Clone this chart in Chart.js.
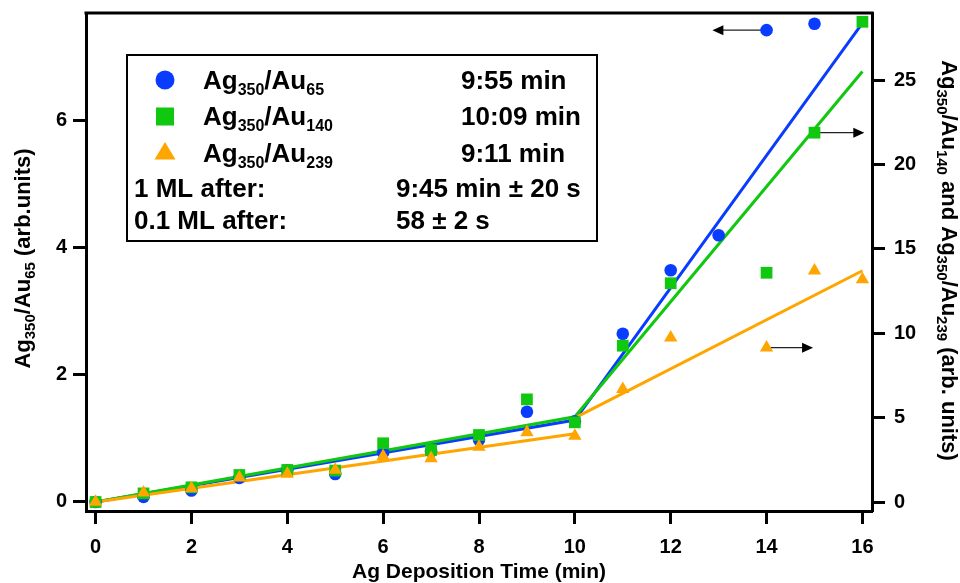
<!DOCTYPE html>
<html>
<head>
<meta charset="utf-8">
<script src="https://cdn.jsdelivr.net/npm/chart.js@4/dist/chart.umd.min.js"></script>
<style>
  html, body { margin: 0; padding: 0; background: #fff; }
  #wrap { width: 960px; height: 583px; }
</style>
</head>
<body>
<div id="wrap"><canvas id="chart"></canvas></div>
<script>
// data
const times  = [0, 1, 2, 3, 4, 5, 6, 7, 8, 9, 10, 11, 12, 13, 14, 15, 16];
const au65   = [0, 0.08, 0.18, 0.38, 0.5, 0.44, 0.78, 0.8, 0.98, 1.42, 1.27, 2.65, 3.65, 4.2, 7.43, 7.53, null];
const au140  = [0, 0.51, 0.87, 1.6, 1.9, 1.86, 3.48, 3.08, 3.97, 6.08, 4.72, 9.26, 12.96, null, 13.58, 21.88, 28.45];
const au239  = [0, 0.55, 0.81, 1.44, 1.66, 1.9, 2.72, 2.59, 3.26, 4.13, 3.91, 6.68, 9.74, null, 9.14, 13.7, 13.19];

// linear fits (break at 10 min)
const fit65X  = [0, 10, 16];
const fit65Y  = [0, 1.29, 7.54];
const fit140X = [0, 10, 16];
const fit140Y = [0, 5.05, 25.5];
const fit239LowX  = [0, 10];
const fit239LowY  = [0, 4.05];
const fit239HighX = [10, 16];
const fit239HighY = [4.98, 13.7];

const xTicks     = [0, 2, 4, 6, 8, 10, 12, 14, 16];
const leftTicks  = [0, 2, 4, 6];
const rightTicks = [0, 5, 10, 15, 20, 25];

// axis arrows: from marker to tip, at the marker's value
const arrowFrom = [14, 15, 14];
const arrowTo   = [12.87, 16.04, 14.97];
const arrowY    = [7.43, 21.88, 9.14];
const arrowAxis = ['y', 'y2', 'y2'];

const legendNames = [
  [['Ag'], ['350', 1], ['/Au'], ['65', 1]],
  [['Ag'], ['350', 1], ['/Au'], ['140', 1]],
  [['Ag'], ['350', 1], ['/Au'], ['239', 1]],
];
const legendTimes = ['9:55 min', '10:09 min', '9:11 min'];
const noteLabels  = ['1 ML after:', '0.1 ML after:'];
const noteValues  = ['9:45 min \u00b1 20 s', '58 \u00b1 2 s'];

const leftTitle  = [['Ag'], ['350', 1], ['/Au'], ['65', 1], [' (arb.units)']];
const rightTitle = [['Ag'], ['350', 1], ['/Au'], ['140', 1], [' and Ag'], ['350', 1], ['/Au'], ['239', 1], [' (arb. units)']];
const xTitle = 'Ag Deposition Time (min)';

const BLUE = '#0a3cff', GREEN = '#10c810', ORANGE = '#ffa500';
const FONT = '"Liberation Sans", Arial, Helvetica, sans-serif';

function pts(xs, ys) {
  return xs.map((x, i) => ({ x: x, y: ys[i] })).filter(p => p.y !== null);
}

// text with subscripts; parts = [[text, isSub], ...]
function richWidth(ctx, parts, size, sub) {
  let w = 0;
  parts.forEach(p => {
    ctx.font = 'bold ' + (p[1] ? sub : size) + 'px ' + FONT;
    w += ctx.measureText(p[0]).width;
  });
  return w;
}
function drawRich(ctx, parts, x, y, size, sub, drop, center) {
  let cx = center ? x - richWidth(ctx, parts, size, sub) / 2 : x;
  ctx.textAlign = 'left';
  ctx.textBaseline = 'alphabetic';
  parts.forEach(p => {
    ctx.font = 'bold ' + (p[1] ? sub : size) + 'px ' + FONT;
    ctx.fillText(p[0], cx, p[1] ? y + drop : y);
    cx += ctx.measureText(p[0]).width;
  });
}

/* ── frame, titles, arrows, legend ───────────── */
const decor = {
  id: 'decor',
  beforeDatasetsDraw(chart) {
    const ctx = chart.ctx, sx = chart.scales.x;
    ctx.save();
    ctx.strokeStyle = '#222';
    ctx.fillStyle = '#000';
    ctx.lineWidth = 1.3;
    arrowFrom.forEach((f, i) => {
      const ys = chart.scales[arrowAxis[i]];
      const x1 = sx.getPixelForValue(f), x2 = sx.getPixelForValue(arrowTo[i]);
      const y = ys.getPixelForValue(arrowY[i]);
      const dir = x2 > x1 ? 1 : -1;
      ctx.beginPath();
      ctx.moveTo(x1, y);
      ctx.lineTo(x2 - dir * 8, y);
      ctx.stroke();
      ctx.beginPath();
      ctx.moveTo(x2, y);
      ctx.lineTo(x2 - dir * 11, y - 5);
      ctx.lineTo(x2 - dir * 11, y + 5);
      ctx.closePath();
      ctx.fill();
    });
    ctx.restore();
  },
  afterDraw(chart) {
    const ctx = chart.ctx, a = chart.chartArea;
    ctx.save();
    ctx.strokeStyle = '#000';
    ctx.fillStyle = '#000';

    // top frame
    ctx.lineWidth = 3;
    ctx.beginPath();
    ctx.moveTo(a.left - 1.5, a.top);
    ctx.lineTo(a.right + 1.5, a.top);
    ctx.stroke();

    // axis titles
    ctx.font = 'bold 21px ' + FONT;
    ctx.textAlign = 'center';
    ctx.textBaseline = 'alphabetic';
    ctx.fillText(xTitle, (a.left + a.right) / 2, 578);

    ctx.save();
    ctx.translate(30, 258.5);
    ctx.rotate(-Math.PI / 2);
    drawRich(ctx, leftTitle, 0, 0, 22, 15, 5, true);
    ctx.restore();

    ctx.save();
    ctx.translate(942, 260.5);
    ctx.rotate(Math.PI / 2);
    drawRich(ctx, rightTitle, 0, 0, 22, 15, 5, true);
    ctx.restore();

    // legend box
    ctx.lineWidth = 2;
    ctx.strokeRect(127, 55, 470, 186);

    const rowY = [89, 125, 161.5];
    const markY = [80, 116.5, 151];
    // markers
    ctx.fillStyle = BLUE;
    ctx.beginPath();
    ctx.arc(165, markY[0], 9.5, 0, Math.PI * 2);
    ctx.fill();
    ctx.fillStyle = GREEN;
    ctx.fillRect(156, markY[1] - 9, 18, 18);
    ctx.fillStyle = ORANGE;
    ctx.beginPath();
    ctx.moveTo(165, markY[2] - 9);
    ctx.lineTo(175.5, markY[2] + 8.5);
    ctx.lineTo(154.5, markY[2] + 8.5);
    ctx.closePath();
    ctx.fill();

    ctx.fillStyle = '#000';
    legendNames.forEach((parts, i) => {
      drawRich(ctx, parts, 203, rowY[i], 26, 16, 6, false);
      ctx.font = 'bold 26px ' + FONT;
      ctx.fillText(legendTimes[i], 461, rowY[i]);
    });
    const noteY = [197, 229];
    noteLabels.forEach((t, i) => {
      ctx.font = 'bold 26px ' + FONT;
      ctx.textAlign = 'left';
      ctx.fillText(t, 134, noteY[i]);
      ctx.fillText(noteValues[i], 396, noteY[i]);
    });
    ctx.restore();
  }
};

function axisStyle(ticks, pad) {
  return {
    afterBuildTicks: s => { s.ticks = ticks.map(v => ({ value: v })); },
    grid: { drawOnChartArea: false, drawTicks: true, tickLength: 13, tickWidth: 3, tickColor: '#000' },
    border: { display: true, width: 3, color: '#000' },
    ticks: { color: '#000', padding: pad, autoSkip: false, maxRotation: 0,
             font: { size: 20, weight: 'bold', family: FONT } },
  };
}

const lineSet = (xs, ys, color, axis, order) => ({
  data: pts(xs, ys), yAxisID: axis, showLine: true, borderColor: color,
  borderWidth: 3, pointRadius: 0, fill: false, order: order,
});

new Chart(document.getElementById('chart'), {
  type: 'scatter',
  data: {
    datasets: [
      { data: pts(times, au239), yAxisID: 'y2', pointStyle: 'triangle', pointRadius: 7.7,
        backgroundColor: ORANGE, borderWidth: 0, order: 0 },
      { data: pts(times, au140), yAxisID: 'y2', pointStyle: 'rect', pointRadius: 8.3,
        backgroundColor: GREEN, borderWidth: 0, order: 1 },
      { data: pts(times, au65), yAxisID: 'y', pointStyle: 'circle', pointRadius: 6.3,
        backgroundColor: BLUE, borderWidth: 0, order: 2 },
      lineSet(fit239HighX, fit239HighY, ORANGE, 'y2', 3),
      lineSet(fit239LowX, fit239LowY, ORANGE, 'y2', 4),
      lineSet(fit140X, fit140Y, GREEN, 'y2', 5),
      lineSet(fit65X, fit65Y, BLUE, 'y', 6),
    ],
  },
  options: {
    responsive: true,
    maintainAspectRatio: false,
    animation: false,
    layout: { padding: { top: 13, left: 0, right: 0, bottom: 0 } },
    plugins: { legend: { display: false }, tooltip: { enabled: false } },
    scales: {
      x: Object.assign(axisStyle(xTicks, 11), {
        type: 'linear', min: -0.2, max: 16.2,
        afterFit: s => { s.height = 72; s.paddingLeft = 0; s.paddingRight = 0; },
      }),
      y: Object.assign(axisStyle(leftTicks, 6), {
        type: 'linear', position: 'left', min: -0.142, max: 7.70,
        afterFit: s => { s.width = 86; s.paddingTop = 0; s.paddingBottom = 0; },
      }),
      y2: Object.assign(axisStyle(rightTicks, 9), {
        type: 'linear', position: 'right', min: -0.533, max: 28.97,
        afterFit: s => { s.width = 88; s.paddingTop = 0; s.paddingBottom = 0; },
      }),
    },
  },
  plugins: [decor],
});
</script>
</body>
</html>
